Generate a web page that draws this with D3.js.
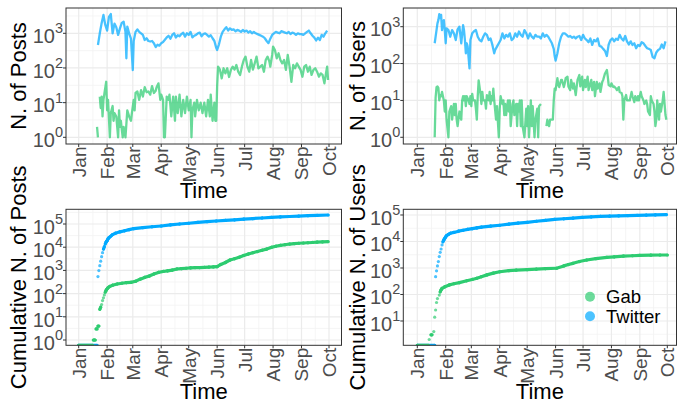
<!DOCTYPE html>
<html><head><meta charset="utf-8">
<script src="https://cdn.jsdelivr.net/npm/d3@7"></script>
<style>
body{margin:0;background:#fff;}
svg{display:block;font-family:"Liberation Sans",Arial,Helvetica,sans-serif;}
</style>
</head><body>
<svg id="chart" width="677" height="403"></svg>
<script>
// ---------- data (day = days since 1 Jan 2017) ----------
const months = ["Jan","Feb","Mar","Apr","May","Jun","Jul","Aug","Sep","Oct"];
const seriesNames = ["Gab","Twitter"];
const seriesColors = ["#2ECC71","#00AAFF"];

const twitterPosts = [[21,460],[23,1000],[25,1940],[27,3380],[29,1740],[31,1200],[33,3000],[35,3600],[37,1000],[39,1900],[41,1500],[43,900],[45,1390],[47,2000],[49,2170],[51,1100],[52,190],[53,1560],[55,1000],[57,700],[59,87],[60,600],[62,1100],[64,1300],[66,1100],[68,1000],[70,900],[72,640],[74,720],[76,600],[78,580],[80,600],[82,520],[84,400],[86,470],[88,440],[90,520],[92,560],[94,650],[96,760],[98,850],[100,700],[102,900],[104,1000],[106,760],[108,880],[110,820],[112,950],[114,1040],[116,800],[118,1000],[120,900],[122,1100],[124,760],[126,850],[128,900],[130,1000],[132,1050],[134,820],[136,950],[138,1000],[140,900],[142,800],[144,880],[146,720],[148,600],[150,380],[151,330],[153,480],[155,800],[157,1100],[159,1300],[161,1500],[163,1200],[165,1390],[167,1250],[169,1300],[171,1150],[173,1250],[175,1200],[177,1100],[179,1250],[181,1120],[183,1200],[185,1050],[187,1150],[189,1000],[191,1100],[193,1000],[195,950],[197,900],[199,850],[201,800],[203,720],[205,600],[207,520],[209,700],[211,900],[213,1000],[215,1100],[217,1050],[219,1000],[221,1150],[223,1100],[225,1050],[227,1000],[229,1100],[231,950],[233,1050],[235,1000],[237,900],[239,1000],[241,950],[243,950],[245,900],[247,1000],[249,1100],[251,1200],[253,1000],[255,850],[257,750],[259,620],[261,750],[263,640],[265,900],[267,800],[269,1000],[271,1200]];

const gabPosts = [[20,2],[21,1],[22,0],[23,15],[24,7],[25,15],[26,4],[27,12],[28,18],[30,40],[31,6],[32,12],[34,1],[35,5],[37,8],[38,3],[39,5],[41,4],[43,1],[44,6],[45,2],[46,3],[48,1],[49,2],[51,1],[53,6],[55,4],[57,3],[58,5],[60,12],[61,6],[62,19],[64,21],[66,12],[68,23],[70,15],[72,28],[74,20],[76,21],[78,17],[80,30],[82,19],[84,22],[85,28],[87,36],[89,12],[90,17],[92,12],[93,1],[94,1],[96,15],[98,12],[99,17],[101,4],[103,15],[105,3],[106,15],[108,5],[110,17],[112,4],[114,12],[116,5],[118,15],[120,6],[122,12],[123,1],[124,6],[126,10],[127,4],[129,12],[131,6],[133,10],[135,5],[137,10],[139,4],[141,12],[143,4],[144,17],[146,3],[148,10],[149,3],[150,3],[151,30],[152,110],[154,90],[156,50],[158,98],[160,70],[162,98],[164,55],[166,88],[168,109],[170,90],[172,122],[174,78],[176,63],[178,109],[180,170],[182,212],[184,109],[186,78],[188,170],[190,90],[192,136],[194,212],[196,98],[198,109],[200,122],[202,78],[204,170],[206,212],[208,152],[209,109],[211,237],[212,412],[214,330],[216,190],[218,265],[220,170],[222,136],[224,170],[226,88],[228,237],[230,109],[232,40],[234,122],[236,98],[238,136],[240,109],[242,88],[244,56],[246,109],[248,122],[250,78],[252,109],[254,63],[256,88],[258,98],[260,78],[262,56],[264,70],[266,63],[268,36],[270,78],[271,110],[272,45]];

const twitterUsers = [[19,355],[20,535],[21,810],[22,1230],[23,1510],[24,2200],[25,1700],[26,2100],[27,810],[28,1230],[29,1510],[30,810],[31,355],[32,900],[34,810],[36,535],[38,810],[40,660],[42,435],[44,850],[46,1000],[48,355],[50,1100],[51,810],[52,435],[53,190],[54,355],[55,290],[57,74],[58,435],[60,660],[62,750],[64,810],[66,535],[68,435],[70,400],[72,535],[74,660],[76,600],[78,435],[80,480],[82,320],[84,190],[85,233],[87,287],[89,355],[91,435],[93,660],[95,480],[97,600],[99,535],[101,660],[103,435],[105,480],[107,660],[109,535],[111,740],[113,600],[115,535],[117,810],[119,660],[121,480],[123,660],[125,535],[127,480],[129,600],[131,535],[133,535],[135,480],[137,660],[139,535],[141,600],[143,535],[145,435],[147,355],[149,250],[150,160],[151,120],[153,190],[155,355],[157,535],[159,660],[161,660],[163,600],[165,535],[167,560],[169,500],[171,535],[173,480],[175,535],[177,560],[179,435],[181,600],[183,480],[185,435],[187,380],[189,480],[191,320],[193,435],[195,400],[197,480],[199,300],[201,287],[203,250],[205,220],[207,160],[209,330],[211,435],[213,480],[215,400],[217,470],[219,440],[221,600],[223,480],[225,420],[227,560],[229,400],[231,330],[233,400],[235,320],[237,355],[239,260],[241,320],[243,300],[245,380],[247,355],[249,300],[251,260],[253,250],[255,233],[257,150],[259,140],[261,200],[263,233],[265,250],[267,330],[269,260],[271,400]];

const gabUsers = [[19,1],[20,12],[21,23],[22,24],[23,22],[24,10],[25,14],[26,13],[27,17],[28,13],[29,10],[30,5],[31,10],[32,3],[34,1],[35,5],[37,7],[38,3],[39,5],[40,8],[41,4],[42,8],[43,3],[44,2],[46,5],[48,3],[49,10],[50,13],[51,10],[52,13],[53,7],[54,13],[56,10],[57,8],[58,13],[59,7],[60,15],[61,10],[63,10],[64,6],[65,3],[66,13],[67,35],[69,15],[70,8],[71,17],[72,10],[74,10],[75,6],[76,14],[78,10],[79,17],[80,8],[81,13],[82,10],[83,21],[84,10],[86,3],[87,7],[89,1],[90,6],[91,13],[92,10],[93,8],[94,10],[95,4],[96,8],[97,4],[99,10],[100,5],[101,10],[102,2],[104,8],[105,10],[106,4],[108,8],[109,2],[110,8],[111,5],[112,10],[113,2],[114,10],[115,2],[117,1],[119,6],[120,2],[121,7],[122,1],[124,10],[125,2],[126,7],[128,1],[129,3],[131,6],[132,1],[133,7],[135,8],[138,0],[141,2],[142,3],[144,2],[145,3],[147,3],[148,3],[149,10],[150,21],[151,19],[153,40],[154,26],[155,23],[157,36],[158,36],[160,23],[161,29],[162,40],[164,44],[165,24],[167,19],[168,36],[170,21],[171,29],[173,14],[174,23],[175,36],[177,49],[178,24],[180,44],[181,19],[183,36],[184,23],[186,44],[187,19],[189,29],[190,36],[191,19],[193,32],[194,13],[196,32],[197,21],[199,29],[200,17],[202,32],[203,36],[205,54],[207,67],[208,44],[209,26],[211,24],[212,29],[214,23],[215,24],[217,21],[218,19],[220,23],[221,17],[223,16],[224,13],[225,3],[226,10],[228,14],[229,10],[231,10],[232,10],[234,17],[235,13],[237,9],[238,13],[240,10],[241,13],[242,10],[244,17],[245,13],[247,10],[248,8],[250,10],[251,8],[252,5],[254,4],[255,13],[256,10],[258,8],[259,5],[260,2],[261,3],[262,10],[264,3],[265,8],[266,5],[268,10],[269,17],[271,4],[272,3]];

const twitterCumPosts = [[0,0],[20,0],[21,540],[22,980],[23,1600],[24,2500],[25,3900],[26,5800],[27,8300],[28,10500],[29,13800],[30,17000],[31,19000],[32,23000],[33,25700],[35,30000],[37,35000],[40,40000],[45,46000],[50,51000],[55,57000],[60,63000],[70,70000],[80,76000],[90,82000],[100,91000],[110,100000],[120,108000],[130,117000],[140,126000],[150,135000],[160,143000],[170,151000],[180,162000],[190,172000],[200,182000],[210,192000],[220,202000],[230,211000],[240,219000],[250,228000],[260,236000],[272,245000]];

const gabCumPosts = [[0,0],[15,0],[16,1],[17,1],[18,1],[19,3],[20,3],[21,4],[22,4],[23,21],[24,26],[25,34],[26,50],[27,66],[28,88],[29,115],[30,140],[31,160],[32,180],[34,205],[37,230],[42,260],[47,280],[52,295],[57,305],[62,340],[67,420],[72,500],[77,570],[82,700],[87,820],[92,900],[97,960],[102,1030],[107,1150],[112,1200],[117,1240],[122,1280],[127,1320],[132,1330],[137,1360],[142,1390],[147,1420],[151,1450],[155,1800],[160,2200],[165,2800],[170,3200],[175,3700],[180,4400],[185,5100],[190,5800],[195,6500],[200,7400],[205,8300],[210,9800],[215,11000],[220,12000],[225,12800],[230,13700],[235,14300],[240,14800],[245,15200],[250,15600],[255,16000],[260,16500],[266,17000],[272,17400]];

const twitterCumUsers = [[0,0],[19,0],[20,470],[21,780],[22,1200],[23,1740],[24,2700],[25,3900],[26,5200],[27,7400],[28,9800],[29,11500],[30,13200],[31,15000],[32,16600],[34,18600],[36,20400],[40,22000],[45,24500],[50,26500],[55,28500],[60,30500],[65,32500],[70,35000],[80,38000],[90,41000],[100,45000],[110,49500],[120,53000],[130,58000],[140,62500],[150,68000],[160,72000],[170,76000],[180,81000],[190,85000],[200,88000],[210,90500],[220,93000],[230,95500],[240,97500],[250,99500],[260,101000],[272,103000]];

const gabCumUsers = [[0,0],[12,0],[13,2],[15,3],[16,3],[18,4],[19,14],[20,26],[21,50],[22,70],[24,95],[25,125],[26,150],[27,170],[30,195],[35,230],[40,255],[46,280],[54,330],[60,370],[65,410],[70,470],[76,550],[83,640],[90,720],[100,790],[108,830],[120,870],[130,910],[140,950],[152,980],[160,1200],[165,1350],[170,1500],[177,1750],[185,2000],[195,2250],[207,2500],[215,2650],[225,2800],[235,2900],[243,3000],[255,3050],[265,3100],[273,3100]];

// ---------- layout ----------
const panels = [
  {x0:66, x1:341.5, y0:8, y1:144, xJan:78.7, xOct:329, logLo:-0.193, logHi:3.73, title:"N. of Posts", titleX:26, kind:"daily", gab:gabPosts, tw:twitterPosts},
  {x0:403.3, x1:676.5, y0:8, y1:144, xJan:417.3, xOct:667.3, logLo:-0.182, logHi:3.507, title:"N. of Users", titleX:365, kind:"daily", gab:gabUsers, tw:twitterUsers},
  {x0:66, x1:341.5, y0:209.3, y1:345.3, xJan:78.7, xOct:329, logLo:-0.228, logHi:5.634, title:"Cumulative N. of Posts", titleX:26, kind:"cum", gab:gabCumPosts, tw:twitterCumPosts},
  {x0:403.3, x1:676.5, y0:209.3, y1:345.3, xJan:417.3, xOct:667.3, logLo:0.083, logHi:5.215, title:"Cumulative N. of Users", titleX:365, kind:"cum", gab:gabCumUsers, tw:twitterCumUsers, legend:true}
];

const svg = d3.select("#chart");
svg.append("rect").attr("width",677).attr("height",403).attr("fill","#fff");
const defs = svg.append("defs");
const base = Date.UTC(2017,0,1);
const toDate = d => new Date(base + d*864e5);
const monthDates = months.map((m,i)=>new Date(Date.UTC(2017,i,1)));
const colorOf = d3.scaleOrdinal().domain(seriesNames).range(seriesColors);

panels.forEach((p,pi)=>{
  const g = svg.append("g");
  const x = d3.scaleUtc().domain([monthDates[0], monthDates[9]]).range([p.xJan, p.xOct]);
  const y = d3.scaleLog().domain([Math.pow(10,p.logLo), Math.pow(10,p.logHi)]).range([p.y1, p.y0]);
  const yv = v => v > 0 ? y(v) : p.y1;

  // grid
  const majorsY = d3.range(Math.ceil(p.logLo), Math.floor(p.logHi)+1);
  const minorsY = d3.range(Math.floor(p.logLo), Math.floor(p.logHi)+1).map(k=>k+0.5).filter(k=>k>p.logLo && k<p.logHi);
  const mx = monthDates.map(d=>x(d));
  const minorsX = mx.slice(0,-1).map((v,i)=>(v+mx[i+1])/2);
  const grid = g.append("g");
  minorsX.forEach(v=>grid.append("line").attr("x1",v).attr("x2",v).attr("y1",p.y0).attr("y2",p.y1).attr("stroke","#F2F2F2").attr("stroke-width",0.8));
  minorsY.forEach(k=>{const yy=y(Math.pow(10,k)); grid.append("line").attr("x1",p.x0).attr("x2",p.x1).attr("y1",yy).attr("y2",yy).attr("stroke","#F2F2F2").attr("stroke-width",0.8);});
  mx.forEach(v=>grid.append("line").attr("x1",v).attr("x2",v).attr("y1",p.y0).attr("y2",p.y1).attr("stroke","#EBEBEB").attr("stroke-width",1.2));
  majorsY.forEach(k=>{const yy=y(Math.pow(10,k)); grid.append("line").attr("x1",p.x0).attr("x2",p.x1).attr("y1",yy).attr("y2",yy).attr("stroke","#EBEBEB").attr("stroke-width",1.2);});

  // clip
  const cid = "clip"+pi;
  defs.append("clipPath").attr("id",cid).append("rect").attr("x",p.x0).attr("y",p.y0).attr("width",p.x1-p.x0).attr("height",p.y1-p.y0);
  const dg = g.append("g").attr("clip-path",`url(#${cid})`);

  const series = [["Twitter",p.tw],["Gab",p.gab]];
  if (p.kind === "daily") {
    const line = d3.line().defined(d=>d[1]>0).x(d=>x(toDate(d[0]))).y(d=>y(d[1]));
    series.forEach(([name,data])=>{
      dg.append("path").attr("d",line(data)).attr("fill","none")
        .attr("stroke",colorOf(name)).attr("stroke-opacity",0.72).attr("stroke-width",2.3)
        .attr("stroke-linejoin","round");
    });
  } else {
    series.forEach(([name,data])=>{
      const pts = data.map(d=>[x(toDate(d[0])), yv(d[1])]);
      const sg = dg.append("g");
      for (let i=1;i<pts.length;i++){
        if (Math.abs(pts[i][1]-pts[i-1][1]) < 2.5) {
          sg.append("line").attr("x1",pts[i-1][0]).attr("y1",pts[i-1][1]).attr("x2",pts[i][0]).attr("y2",pts[i][1])
            .attr("stroke",colorOf(name)).attr("stroke-width",3.2).attr("stroke-linecap","round");
        }
      }
      sg.selectAll("circle").data(pts).join("circle").attr("cx",d=>d[0]).attr("cy",d=>d[1]).attr("r",1.6)
        .attr("fill",colorOf(name)).attr("fill-opacity",0.7);
    });
  }

  // border
  g.append("rect").attr("x",p.x0).attr("y",p.y0).attr("width",p.x1-p.x0).attr("height",p.y1-p.y0)
    .attr("fill","none").attr("stroke","#333333").attr("stroke-width",1);

  // x ticks + labels
  mx.forEach((v,i)=>{
    g.append("line").attr("x1",v).attr("x2",v).attr("y1",p.y1).attr("y2",p.y1+3).attr("stroke","#333").attr("stroke-width",1);
    g.append("text").attr("transform",`translate(${v+7},${p.y1+2.5}) rotate(-90)`)
      .attr("text-anchor","end").attr("font-size",19).attr("fill","#4D4D4D").text(months[i]);
  });
  // y ticks + labels
  majorsY.forEach(k=>{
    const yy = y(Math.pow(10,k));
    g.append("line").attr("x1",p.x0-3).attr("x2",p.x0).attr("y1",yy).attr("y2",yy).attr("stroke","#333").attr("stroke-width",1);
    const t = g.append("text").attr("x",p.x0-3).attr("y",yy+9.7).attr("text-anchor","end").attr("font-size",20).attr("fill","#4D4D4D");
    t.append("tspan").text("10");
    t.append("tspan").attr("dy",-9.7).attr("font-size",14.5).text(String(k));
  });
  // titles
  g.append("text").attr("x",(p.x0+p.x1)/2).attr("y",p.y1+54).attr("text-anchor","middle").attr("font-size",22).attr("fill","#000").text("Time");
  g.append("text").attr("transform",`translate(${p.titleX},${(p.y0+p.y1)/2}) rotate(-90)`)
    .attr("text-anchor","middle").attr("font-size",22).attr("fill","#000").text(p.title);

  if (p.legend) {
    const lg = g.append("g");
    seriesNames.forEach((n,i)=>{
      const cy = 296.8 + i*19.5;
      lg.append("circle").attr("cx",590).attr("cy",cy).attr("r",5).attr("fill",colorOf(n)).attr("fill-opacity",0.7);
      lg.append("text").attr("x",606).attr("y",cy+6.3).attr("font-size",18.5).attr("fill","#000").text(n);
    });
  }
});
</script>
</body></html>
